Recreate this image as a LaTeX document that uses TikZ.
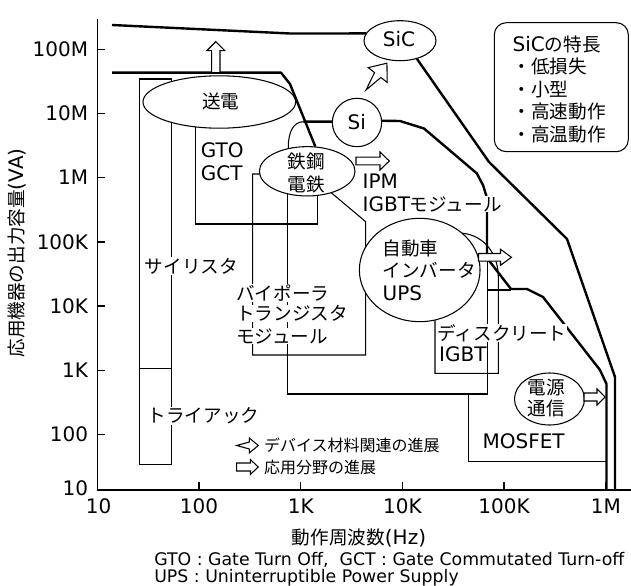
\documentclass[tikz,border=0pt]{standalone}
\usepackage{fontspec}
\setmainfont{DejaVu Sans}
\newfontfamily\jp[Scale=0.93]{Noto Sans CJK JP}
\usetikzlibrary{shapes.geometric}
\tikzset{
  region/.style={line width=0.8pt},
  bound/.style={line width=1.8pt, line join=round},
  axisline/.style={line width=1.1pt},
  bubble/.style={ellipse, draw, line width=0.8pt, fill=white, inner sep=0pt},
  lbl/.style={font=\fontsize{15}{17}\selectfont, inner sep=0.5pt},
  lblw/.style={lbl, fill=white},
  legend/.style={font=\fontsize{12.9}{15}\selectfont, inner sep=0.5pt, anchor=west},
  foot/.style={font=\fontsize{13}{16}\selectfont, inner sep=0pt, anchor=west},
  hollow/.style={draw, line width=0.8pt, fill=white, line join=miter},
  pics/barrow/.style n args={4}{code={
    \draw[hollow] (0,-#2) -- ({#1-#4},-#2) -- ({#1-#4},-#3) -- (#1,0) -- ({#1-#4},#3) -- ({#1-#4},#2) -- (0,#2) -- cycle;}},
  pics/darrow/.style n args={4}{code={
    \draw[hollow] (0,0) -- ({#1-#4},-#2) -- ({#1-#4},-#3) -- (#1,0) -- ({#1-#4},#3) -- ({#1-#4},#2) -- cycle;}},
}
\begin{document}
\begin{tikzpicture}[x=0.75pt,y=-0.75pt]
\useasboundingbox (0,0) rectangle (631,585);

% axes
\draw[axisline] (97.3,19) -- (97.3,490) -- (631,490);
\foreach \yy/\tt in {49.3/100M,113.5/10M,177.7/1M,241.9/100K,306.1/10K,370.3/1K,434.5/100}{
  \draw[axisline] (97.3,\yy) -- (105,\yy);
  \node[lbl, anchor=east] (y\tt) at (89,\yy) {\tt};
}
\node[lbl, anchor=east] (y10) at (89,488) {10};
\foreach \xx/\tt in {199/100,300.7/1K,402.4/10K,504.1/100K,605.8/1M}{
  \draw[axisline] (\xx,490) -- (\xx,482);
  \node[lbl] (x\tt) at (\xx,506) {\tt};
}
\node[lbl] (x10) at (98.7,506) {10};
\node[lbl] (xtitle) at (359,538) {{\jp 動作周波数}(Hz)};
\node[lbl, rotate=90] (ytitle) at (17,253) {{\jp 応用機器の出力容量}(VA)};

% device regions (thin)
\draw[region] (139.3,79) rectangle (171.7,368.3);
\draw[region] (139.3,368.3) rectangle (171.7,464.3);
\draw[region] (195.7,110) -- (195.7,224) -- (317.7,224) -- (317.7,185);
\draw[region] (268,174) -- (252.7,174) -- (252.7,355) -- (365.7,355) -- (365.7,221.7) -- (328,190);
\draw[region] (288.3,152) -- (288.3,147) .. controls (288.3,131) and (294,122) .. (303.3,121.7);
\draw[region] (287.7,180) -- (287.7,394) -- (487.7,394) -- (487.7,255);
\draw[region] (468.3,394) -- (468.3,461.7) -- (606.5,461.7);
\draw[region] (435,310) -- (435,373.3) -- (498.3,373.3) -- (498.3,277) .. controls (498.3,252) and (482,233) .. (458,233);
\draw[region] (487.7,290) -- (511,290);

% application bubbles
\node[bubble, minimum width=114.5pt, minimum height=39.3pt] (eSoden) at (219.3,102) {};
\node[bubble, minimum width=54pt, minimum height=30pt] (eSiC) at (400,40.7) {};
\node[bubble, minimum width=37pt, minimum height=36.3pt] (eSi) at (357,122.5) {};
\node[bubble, minimum width=71.7pt, minimum height=37pt] (eTetsu) at (307.2,171.3) {};
\node[bubble, minimum width=90.5pt, minimum height=77.5pt] (eCar) at (419.7,270) {};
\node[bubble, minimum width=52.5pt, minimum height=39pt] (ePow) at (549.5,399) {};

% material limits (thick)
\draw[bound] (112,25) -- (290,33.5) -- (eSiC.168);
\draw[bound] (eSiC.313) -- (489,162) -- (567,239) -- (615,377) -- (615,490);
\draw[bound] (112,72.7) -- (281,72.7) -- (290,84) -- (eTetsu.72);
\draw[bound] (303.3,121.7) -- (eSi.178);
\draw[bound] (eSi.4) -- (400,121) -- (424,128.5) -- (476.7,173.3) -- (483,185) -- (487,198) -- (487,258) -- (511,289) -- (527,289) -- (543,297) -- (600,370) -- (606.5,384) -- (606.5,490);

% arrows
\pic[rotate=90] at (215.8,72.7) {barrow={31}{4.2}{9}{9}};
\pic[rotate=52] at (366,90) {darrow={34}{4}{12}{15}};
\pic at (356,161) {barrow={33.3}{3.9}{9}{9.3}};
\pic at (478.5,257.3) {barrow={33}{3.8}{8}{11}};
\pic at (584,397) {barrow={21}{4}{8}{8}};

% SiC features box
\node[draw, line width=0.8pt, rounded corners=9pt, minimum width=100.5pt, minimum height=96.75pt] (feat) at (561.3,87.2) {};
\node[lbl, anchor=west] (f1) at (511.7,44.2) {SiC{\jp の特長}};
\node[lbl, anchor=west] (f2) at (511.7,66.7) {\jp ・低損失};
\node[lbl, anchor=west] (f3) at (511.7,89.2) {\jp ・小型};
\node[lbl, anchor=west] (f4) at (511.7,111.7) {\jp ・高速動作};
\node[lbl, anchor=west] (f5) at (511.7,134.2) {\jp ・高温動作};

% labels
\node[lbl] (tSoden) at (220.8,101.7) {\jp 送電};
\node[lbl] (tSiC) at (399,39) {SiC};
\node[lbl] (tSi) at (356.7,122.5) {Si};
\node[lbl] (tTetsu1) at (306.3,161) {\jp 鉄鋼};
\node[lbl] (tTetsu2) at (306.3,184) {\jp 電鉄};
\node[lbl] (tPow1) at (546,387.5) {\jp 電源};
\node[lbl] (tPow2) at (546,408) {\jp 通信};
\node[lbl, anchor=west] (tCar1) at (381.7,248.3) {\jp 自動車};
\node[lbl, anchor=west] (tCar2) at (381.7,270) {\jp インバータ};
\node[lbl, anchor=west] (tCar3) at (381.7,293.3) {UPS};
\node[lbl, anchor=west] (tGTO) at (200,150.5) {GTO};
\node[lbl, anchor=west] (tGCT) at (200,173.3) {GCT};
\node[lbl, anchor=west] (tIPM) at (361.7,181.7) {IPM};
\node[lblw, anchor=west] (tIGBTm) at (361.7,204) {IGBT{\jp モジュール}};
\node[lblw, anchor=west] (tThy) at (144,266) {\jp サイリスタ};
\node[lblw, anchor=west] (tTri) at (146.7,416) {\jp トライアック};
\node[lblw, anchor=west] (tBip1) at (235.4,292.8) {\jp バイポーラ};
\node[lblw, anchor=west] (tBip2) at (235.4,313.4) {\jp トランジスタ};
\node[lblw, anchor=west] (tBip3) at (235.4,336) {\jp モジュール};
\node[lblw, anchor=west] (tDis) at (436.7,333) {\jp ディスクリート};
\node[lbl, anchor=west] (tIGBT) at (438.3,354) {IGBT};
\node[lbl, anchor=west] (tMOS) at (481.7,441) {MOSFET};

% legend
\pic at (236.7,445.5) {darrow={21.6}{3.5}{7.5}{9}};
\pic at (236.7,467) {barrow={21.6}{4}{7.5}{8}};
\node[legend] (leg1) at (263.3,445) {\jp デバイス材料関連の進展};
\node[legend] (leg2) at (263.3,467) {\jp 応用分野の進展};

% footnotes
\node[foot] (foot1) at (154,559.5) {GTO : Gate Turn Off,\ \ GCT : Gate Commutated Turn-off};
\node[foot] (foot2) at (154,577.5) {UPS : Uninterruptible Power Supply};
\end{tikzpicture}
\end{document}
